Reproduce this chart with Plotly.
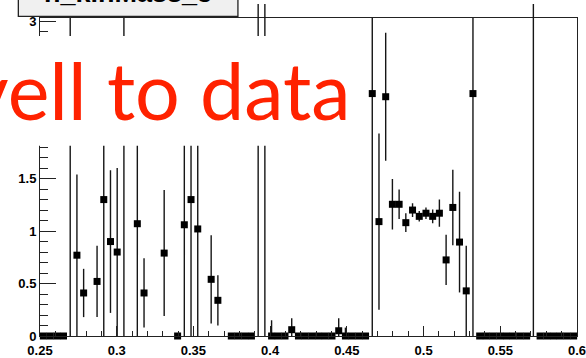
import numpy as np
import plotly.graph_objects as go

# ---------------- data ----------------
x_lo, x_hi, n_bins = 0.25, 0.6, 80
y_max = 3.034

# bin contents (None = empty bin, not drawn)
values = [
    0, 0, 0, 0, 2.3, 0.77, 0.41, None, 0.52, 1.30,
    0.90, 0.80, 2.3, None, 1.07, 0.41, None, None, 0.79, None,
    0, 1.06, 1.30, 1.02, None, 0.54, 0.34, None, 0, 0,
    0, 0, 3.6, 3.6, 0, 0, 0, 0.06, 0, 0,
    0, 0, 0, 0, 0.05, 0, 0, 0, 0, 2.31,
    1.09, 2.28, 1.255, 1.255, 1.08, 1.20, 1.14, 1.17, 1.14, 1.17,
    0.725, 1.225, 0.895, 0.43, 2.31, 0, 0, 0, 0, 0,
    0, 0, 0, 3.6, 0, 0, 0, 0, 0, 0,
]
errors = [
    0, 0, 0, 0, 2.3, 0.77, 0.23, 0, 0.34, 1.30,
    0.68, 0.80, 2.3, 0, 1.07, 0.33, 0, 0, 0.60, 0,
    0, 1.06, 1.30, 1.02, 0, 0.42, 0.24, 0, 0, 0,
    0, 0, 3.6, 3.6, 0.15, 0, 0, 0.11, 0, 0,
    0, 0, 0, 0, 0.12, 0.08, 0, 0, 0, 2.31,
    0.84, 0.61, 0.24, 0.14, 0.09, 0.065, 0.05, 0.055, 0.065, 0.13,
    0.24, 0.36, 0.48, 0.43, 2.31, 0, 0, 0, 0, 0,
    0, 0, 0, 3.6, 0, 0, 0, 0, 0, 0,
]
title_text = "h_kinMass_3"
overlay_text = "vell to data"

# ---------------- build ----------------
edges = np.linspace(x_lo, x_hi, n_bins + 1)
centers = 0.5 * (edges[:-1] + edges[1:])

in_x, in_y, off_x, off_y = [], [], [], []
mk_x, mk_y = [], []
for c, v, e in zip(centers, values, errors):
    if v is None:
        continue
    mk_x.append(float(c))
    mk_y.append(v)
    if e > 0:
        if v > y_max:
            off_x += [float(c), float(c), None]
            off_y += [v - e, v + e, None]
        else:
            in_x += [float(c), float(c), None]
            in_y += [v - e, v + e, None]

ink = "#151515"
fig = go.Figure()
fig.add_trace(go.Scatter(x=in_x, y=in_y, mode="lines", line=dict(color=ink, width=1.4),
                         hoverinfo="skip", showlegend=False))
fig.add_trace(go.Scatter(x=off_x, y=off_y, mode="lines", yaxis="y2",
                         line=dict(color=ink, width=1.4), hoverinfo="skip", showlegend=False))
fig.add_trace(go.Scatter(x=mk_x, y=mk_y, mode="markers", cliponaxis=False,
                         marker=dict(symbol="square", size=7, color="black", line=dict(width=0)),
                         showlegend=False))

W, H = 586, 358
ml, mr, mt, mb = 40, 8, 0, 16
pw, ph = W - ml - mr, H - mt - mb
frame_top_px = 14
dom_top = (ph - frame_top_px) / ph


def px_x(p):
    return (p - ml) / pw


def px_y(p):
    return (ph - p) / ph


tfont = dict(family="Liberation Sans", size=13, color="black", weight="bold")
common = dict(showline=True, mirror=True, linecolor="#222", linewidth=1, ticks="inside",
              tickcolor="#222", tickwidth=1, showgrid=False, zeroline=False, tickfont=tfont,
              ticklabeloverflow="allow")

fig.update_layout(
    width=W, height=H, margin=dict(l=ml, r=mr, t=mt, b=mb),
    paper_bgcolor="white", plot_bgcolor="rgba(0,0,0,0)",
    xaxis=dict(range=[x_lo, x_hi], domain=[0, 1], anchor="y", ticklen=10,
               tick0=0.25, dtick=0.05, ticklabelstandoff=2,
               minor=dict(ticks="inside", ticklen=5, tick0=0.25, dtick=0.01, tickcolor="#222"),
               **common),
    yaxis=dict(range=[0, y_max], domain=[0, dom_top], anchor="x", ticklen=16,
               tick0=0, dtick=0.5,
               minor=dict(ticks="inside", ticklen=8, tick0=0, dtick=0.1, tickcolor="#222"),
               **common),
    yaxis2=dict(range=[0, y_max * ph / (ph - frame_top_px)], domain=[0, 1], anchor="x",
                visible=False),
    shapes=[
        dict(type="rect", xref="paper", yref="paper", x0=-0.1, x1=px_x(366),
             y0=px_y(146), y1=px_y(33), fillcolor="white", line=dict(width=0), layer="above"),
        dict(type="rect", xref="paper", yref="paper", x0=px_x(18.3), x1=px_x(238.3),
             y0=px_y(12.7), y1=1.2, fillcolor="#f0f0f0", line=dict(color="#222", width=1.3),
             layer="above"),
    ],
    annotations=[
        dict(text=title_text, xref="paper", yref="paper", x=px_x(128.3), y=px_y(5.2),
             xanchor="center", yanchor="bottom", showarrow=False, borderpad=0,
             font=dict(family="Liberation Sans", size=27, color="black", weight="bold")),
        dict(text=overlay_text, xref="paper", yref="paper", x=px_x(354), y=px_y(88),
             xanchor="right", yanchor="middle", showarrow=False,
             font=dict(family="Lato", size=79, color="#ff2200")),
    ],
)

fig.write_html("out.html")
